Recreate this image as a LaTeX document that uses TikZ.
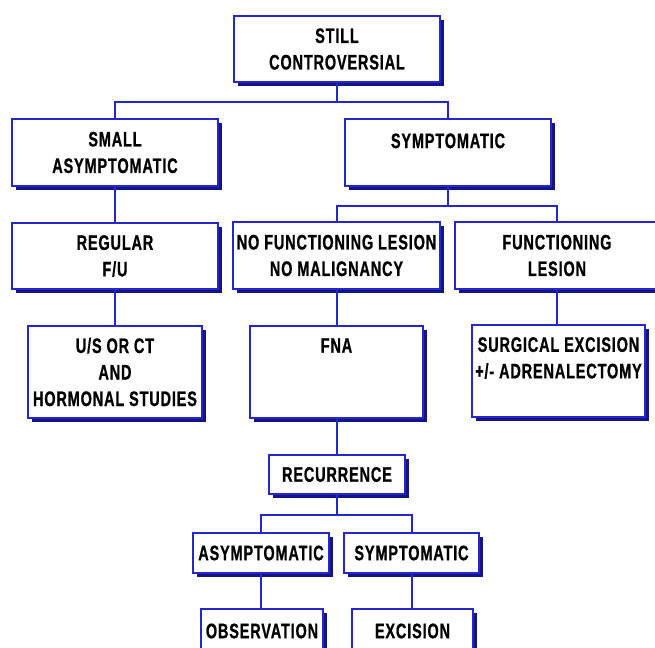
\documentclass[tikz,border=0pt]{standalone}
\usepackage{fontspec}
\setmainfont[FakeStretch=0.69,LetterSpace=4,BoldFont={Liberation Sans Bold},BoldFeatures={FakeBold=0.8}]{Liberation Sans}
\usetikzlibrary{shadows}
\definecolor{lineblue}{RGB}{38,38,205}
\definecolor{shadowblue}{RGB}{20,20,135}
\tikzset{
  box/.style={draw=lineblue, line width=1.3pt, fill=white, align=center,
    inner sep=0pt, font=\fontsize{21}{26.5}\selectfont\bfseries,
    drop shadow={shadow xshift=4pt, shadow yshift=-4pt, fill=shadowblue, opacity=1}},
  link/.style={draw=lineblue, line width=2pt}
}
\begin{document}
\begin{tikzpicture}[x=1pt,y=-1pt]
\useasboundingbox (0,0) rectangle (655,647);
\clip (0,0) rectangle (655,647);
\fill[white] (0,0) rectangle (655,647);
% nodes
\node[box, minimum width=206pt, minimum height=66pt] (top) at (337,49) {STILL\\CONTROVERSIAL};
\node[box, minimum width=206pt, minimum height=67pt] (small) at (115,152.5) {SMALL\\ASYMPTOMATIC};
\node[box, minimum width=206pt, minimum height=67pt] (symp) at (448,152.5) {SYMPTOMATIC\\[-3pt]~};
\node[box, minimum width=206pt, minimum height=66pt] (regular) at (115,256) {REGULAR\\F/U};
\node[box, minimum width=207pt, minimum height=67pt] (nofunc) at (336.5,255.5) {NO FUNCTIONING LESION\\NO MALIGNANCY};
\node[box, minimum width=204pt, minimum height=67pt] (func) at (557,255.5) {FUNCTIONING\\LESION};
\node[box, minimum width=174pt, minimum height=92pt] (us) at (115,372) {U/S OR CT\\AND\\HORMONAL STUDIES};
\node[box, minimum width=173pt, minimum height=92pt] (fna) at (336.5,372) {FNA\\~\\~};
\node[box, minimum width=173pt, minimum height=92pt] (surg) at (558.5,371) {SURGICAL EXCISION\\+/- ADRENALECTOMY\\~};
\node[box, minimum width=136pt, minimum height=39pt] (recur) at (337,474.5) {RECURRENCE};
\node[box, minimum width=136pt, minimum height=40pt] (asym) at (261,553) {ASYMPTOMATIC};
\node[box, minimum width=135pt, minimum height=40pt] (symp2) at (411.5,553) {SYMPTOMATIC};
\node[box, minimum width=122pt, minimum height=44pt] (obs) at (262,631) {OBSERVATION};
\node[box, minimum width=121pt, minimum height=44pt] (exc) at (412.5,631) {EXCISION};
% connectors
\draw[link] (top.south) -- ++(0,19) -| (small.north);
\draw[link] (top.south) ++(0,19) -| (symp.north);
\draw[link] (small.south) -- (regular.north);
\draw[link] (regular.south) -- (us.north);
\draw[link] (symp.south) -- ++(0,19.5) -| (nofunc.north);
\draw[link] (symp.south) ++(0,19.5) -| (func.north);
\draw[link] (nofunc.south) -- (fna.north);
\draw[link] (func.south) -- (func.south |- surg.north);
\draw[link] (fna.south) -- (fna.south |- recur.north);
\draw[link] (recur.south) -- ++(0,20.5) -| (asym.north);
\draw[link] (recur.south) ++(0,20.5) -| (symp2.north);
\draw[link] (asym.south) -- (asym.south |- obs.north);
\draw[link] (symp2.south) -- (symp2.south |- exc.north);
\end{tikzpicture}
\end{document}
